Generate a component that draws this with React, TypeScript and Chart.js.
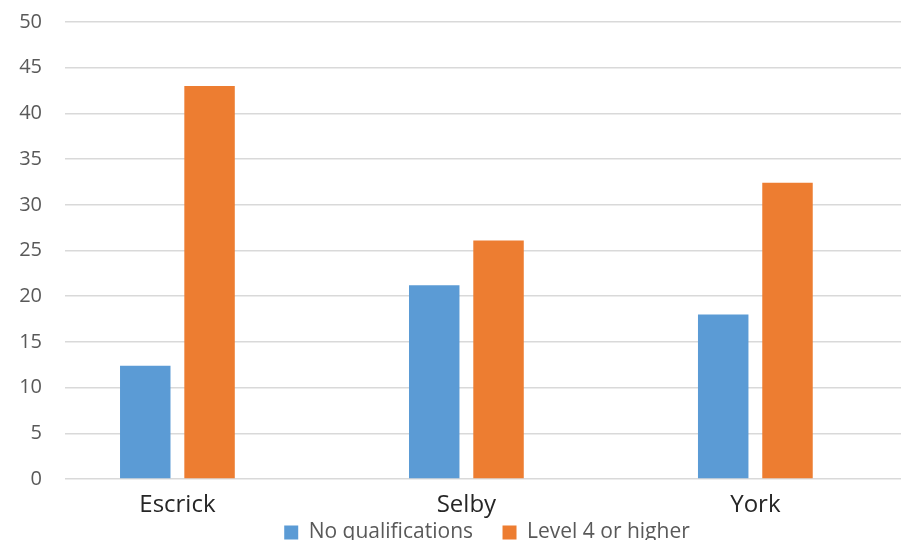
import React, { useEffect, useRef } from "react";
import { Chart, registerables } from "chart.js";

Chart.register(...registerables);

const categories = ["Escrick", "Selby", "York"];
const noQualifications = [12.4, 21.2, 18.0];
const level4OrHigher = [43.0, 26.1, 32.4];
const seriesNames = ["No qualifications", "Level 4 or higher"];
const seriesColors = ["#5B9BD5", "#ED7D31"];
const yMin = 0;
const yMax = 50;
const yStep = 5;

const FONT = "'Open Sans', 'DejaVu Sans', sans-serif";

// Gives the category labels room to draw below the axis box and nudges the legend.
const layoutTweaks = {
  id: "layoutTweaks",
  afterLayout(chart: any) {
    const xs = chart.scales.x;
    if (xs) xs.bottom = xs.top + 46;
    const lg = chart.legend;
    if (lg) {
      lg.left += 4;
      lg.right += 4;
    }
  },
};

export default function App() {
  const ref = useRef<HTMLCanvasElement>(null);

  useEffect(() => {
    document.body.style.margin = "0";
    const canvas = ref.current;
    if (!canvas) return;
    const toPoints = (vals: number[]) => categories.map((_, i) => ({ x: i, y: vals[i] }));
    const common = { borderWidth: 0, categoryPercentage: 0.445, barPercentage: 0.785 };
    const chart = new Chart(canvas, {
      type: "bar",
      data: {
        datasets: [
          { label: seriesNames[0], data: toPoints(noQualifications), backgroundColor: seriesColors[0], ...common },
          { label: seriesNames[1], data: toPoints(level4OrHigher), backgroundColor: seriesColors[1], ...common },
        ],
      },
      options: {
        responsive: false,
        animation: false,
        layout: { padding: { top: 22, right: 0, left: 0, bottom: 0 } },
        scales: {
          x: {
            type: "linear",
            min: -0.389,
            max: 2.504,
            offset: false,
            grid: { display: false, drawTicks: false, offset: false },
            border: { display: false },
            afterBuildTicks: (s: any) => {
              s.ticks = categories.map((_, i) => ({ value: i }));
            },
            afterFit: (s: any) => {
              s.height = 13.5;
            },
            ticks: {
              autoSkip: false,
              maxRotation: 0,
              padding: 12,
              color: "#262626",
              font: { family: FONT, size: 24 },
              callback: (v: any) => categories[v as number] ?? "",
            },
          },
          y: {
            min: yMin,
            max: yMax,
            border: { display: false },
            grid: { color: "#d9d9d9", lineWidth: 1.5, drawTicks: false },
            afterFit: (s: any) => {
              s.width = 65;
              s.paddingTop = 12;
              s.paddingBottom = 12;
            },
            ticks: {
              stepSize: yStep,
              padding: 23,
              color: "#595959",
              font: { family: FONT, size: 20 },
            },
          },
        },
        plugins: {
          legend: {
            position: "bottom",
            fullSize: false,
            labels: {
              boxWidth: 14,
              boxHeight: 14,
              padding: 29.5,
              color: "#595959",
              font: { family: FONT, size: 21 },
            },
          },
          tooltip: { enabled: false },
        },
      },
      plugins: [layoutTweaks],
    } as any);
    return () => chart.destroy();
  }, []);

  return (
    <div style={{ position: "absolute", left: 0, top: 0, width: 901, height: 540, overflow: "hidden" }}>
      <canvas ref={ref} width={901} height={553} style={{ display: "block", width: 901, height: 553 }} />
    </div>
  );
}
